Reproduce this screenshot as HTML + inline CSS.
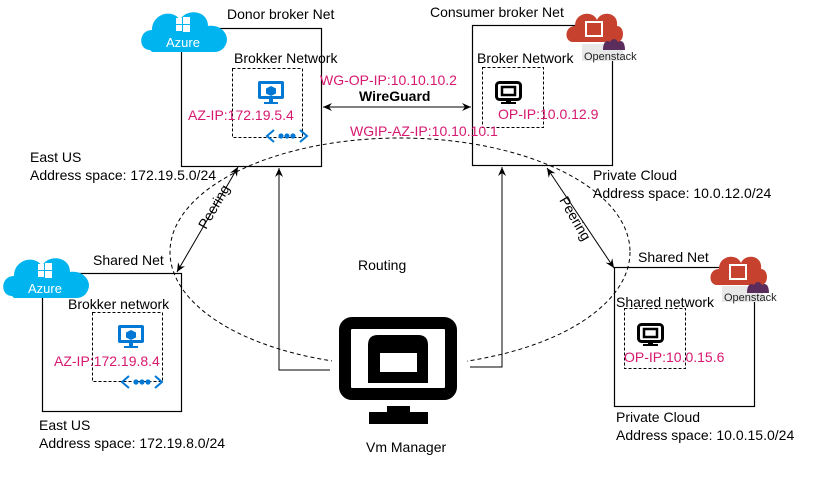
<!DOCTYPE html>
<html><head><meta charset="utf-8"><style>
html,body{margin:0;padding:0;background:#fff;}
svg text{font-family:"Liberation Sans",sans-serif;}
</style></head><body>
<svg width="831" height="478" viewBox="0 0 831 478" xmlns="http://www.w3.org/2000/svg">
<defs>
<marker id="ah" markerWidth="10" markerHeight="10" refX="9" refY="5" orient="auto-start-reverse" markerUnits="userSpaceOnUse">
<path d="M0,1 L9,5 L0,9 L3,5 Z" fill="#000"/></marker>
<g id="az">
<path d="M12,46 C0,46 0,26 14,26 C14,10 34,4 42,16 C48,4 70,6 70,22 C84,20 92,32 88,40 C86,45 82,48 76,48 L14,48 Z" fill="#00b4ef"/>
<rect x="38" y="14" width="6" height="6" fill="#fff"/><rect x="45" y="13" width="7" height="7" fill="#fff"/>
<rect x="38" y="21" width="6" height="6" fill="#fff"/><rect x="45" y="21" width="7" height="7" fill="#fff"/>
<text x="45" y="43" font-size="13" fill="#fff" text-anchor="middle">Azure</text>
</g>
<g id="os">
<path d="M6,32 C-3,32 -3,16 8,16 C8,2 26,0 30,10 C34,0 52,2 50,16 C58,16 58,32 50,32 Z" fill="#c7412f"/>
<rect x="19" y="12" width="16" height="14" fill="none" stroke="#fff" stroke-width="2"/>
<path d="M36,40 C36,30 41,30 43,32 C45,28 49,28 51,32 C53,30 58,30 58,40 Z" fill="#5a2d5c"/>
</g>
<g id="azvm">
<rect x="0" y="0" width="26" height="18" rx="2" fill="#0078d4"/>
<rect x="3" y="3" width="20" height="12" fill="#fff"/>
<path d="M13,5 L18,7.5 L18,12.5 L13,15 L8,12.5 L8,7.5 Z" fill="#0078d4"/>
<rect x="11" y="18" width="4" height="3" fill="#0078d4"/><rect x="6" y="21" width="14" height="2" fill="#0078d4"/>
</g>
<g id="net" fill="none" stroke="#0078d4" stroke-width="2">
<path d="M-4,-6 L-11,0 L-4,6"/><path d="M22,-6 L29,0 L22,6"/>
<circle cx="3" cy="0" r="1.6" fill="#0078d4"/><circle cx="9" cy="0" r="1.6" fill="#0078d4"/><circle cx="15" cy="0" r="1.6" fill="#0078d4"/>
</g>
<g id="mon">
<rect x="1.5" y="1.5" width="24" height="17" rx="3" fill="none" stroke="#000" stroke-width="3"/>
<rect x="7" y="6" width="13" height="8" fill="none" stroke="#000" stroke-width="2.5"/>
<rect x="11" y="19" width="5" height="3" fill="#000"/><rect x="6" y="21" width="15" height="2" fill="#000"/>
</g>
</defs>

<ellipse cx="400" cy="252" rx="230" ry="114" fill="none" stroke="#000" stroke-width="1" stroke-dasharray="4,3"/>

<rect x="181.5" y="28.5" width="140" height="138" fill="none" stroke="#000" stroke-width="1.2"/>
<rect x="472.5" y="25.5" width="140" height="140" fill="none" stroke="#000" stroke-width="1.2"/>
<rect x="42.5" y="273.5" width="139" height="138" fill="none" stroke="#000" stroke-width="1.2"/>
<rect x="614.5" y="267.5" width="140" height="139" fill="none" stroke="#000" stroke-width="1.2"/>

<g fill="none" stroke="#000" stroke-dasharray="3,2">
<rect x="232.5" y="68.5" width="70" height="69"/>
<rect x="482.5" y="67.5" width="61" height="60"/>
<rect x="92.5" y="312.5" width="70" height="69"/>
<rect x="624.5" y="308.5" width="61" height="60"/>
</g>

<polyline points="330,370 279,370 279,168" fill="none" stroke="#000" marker-end="url(#ah)"/>
<polyline points="470,367 502,367 502,167" fill="none" stroke="#000" marker-end="url(#ah)"/>
<line x1="323" y1="107" x2="471" y2="107" stroke="#000" marker-start="url(#ah)" marker-end="url(#ah)"/>
<line x1="238" y1="167" x2="177" y2="272" stroke="#000" marker-start="url(#ah)" marker-end="url(#ah)"/>
<line x1="547" y1="168" x2="614" y2="268" stroke="#000" marker-start="url(#ah)" marker-end="url(#ah)"/>

<!-- big monitor -->
<rect x="332" y="312" width="135" height="118" fill="#fff"/>
<rect x="345" y="323" width="106" height="71" rx="7" fill="none" stroke="#000" stroke-width="12"/>
<path d="M368,383 L368,345 Q368,335 378,335 L418,335 Q428,335 428,345 L428,383 Z M380,353 L380,372 L417,372 L417,353 Z" fill="#000" fill-rule="evenodd"/>
<rect x="387" y="406" width="23" height="7" fill="#000"/>
<rect x="369" y="412" width="59" height="12" fill="#000"/>

<use href="#az" x="138" y="4"/>
<use href="#az" x="0" y="250"/>
<use href="#azvm" x="258" y="81"/>
<use href="#azvm" x="118" y="325"/>
<use href="#net" x="278" y="136"/>
<use href="#net" x="133" y="382"/>
<use href="#mon" x="495" y="81"/>
<use href="#mon" x="637" y="323"/>
<rect x="582" y="44" width="41" height="17" fill="#e8e8e8"/>
<use href="#os" x="567" y="10"/>
<rect x="722" y="286" width="41" height="16" fill="#e8e8e8"/>
<use href="#os" x="711" y="253"/>

<g font-size="14" fill="#000">
<text x="227" y="19">Donor broker Net</text>
<text x="430" y="17">Consumer broker Net</text>
<text x="234" y="63">Brokker Network</text>
<text x="477" y="63">Broker Network</text>
<text x="30" y="162">East US</text>
<text x="30" y="180">Address space: 172.19.5.0/24</text>
<text x="593" y="180">Private Cloud</text>
<text x="593" y="198">Address space: 10.0.12.0/24</text>
<text x="93" y="265">Shared Net</text>
<text x="68" y="309">Brokker network</text>
<text x="39" y="430">East US</text>
<text x="39" y="448">Address space: 172.19.8.0/24</text>
<text x="358" y="270">Routing</text>
<text x="366" y="452">Vm Manager</text>
<text x="638" y="262">Shared Net</text>
<text x="616" y="307">Shared network</text>
<text x="616" y="422">Private Cloud</text>
<text x="616" y="440">Address space: 10.0.15.0/24</text>
<text x="359" y="101" font-weight="bold">WireGuard</text>
<text transform="translate(206,230) rotate(-60)">Peering</text>
<text transform="translate(559,200) rotate(60)">Peering</text>
</g>
<g font-size="11" fill="#222">
<text x="584" y="60">Openstack</text>
<text x="724" y="301">Openstack</text>
</g>
<g font-size="14" fill="#d6186f">
<text x="320" y="85">WG-OP-IP:10.10.10.2</text>
<text x="350" y="136">WGIP-AZ-IP:10.10.10.1</text>
<text x="188" y="120">AZ-IP:172.19.5.4</text>
<text x="498" y="119">OP-IP:10.0.12.9</text>
<text x="54" y="366">AZ-IP:172.19.8.4</text>
<text x="624" y="362">OP-IP:10.0.15.6</text>
</g>
</svg>
</body></html>
